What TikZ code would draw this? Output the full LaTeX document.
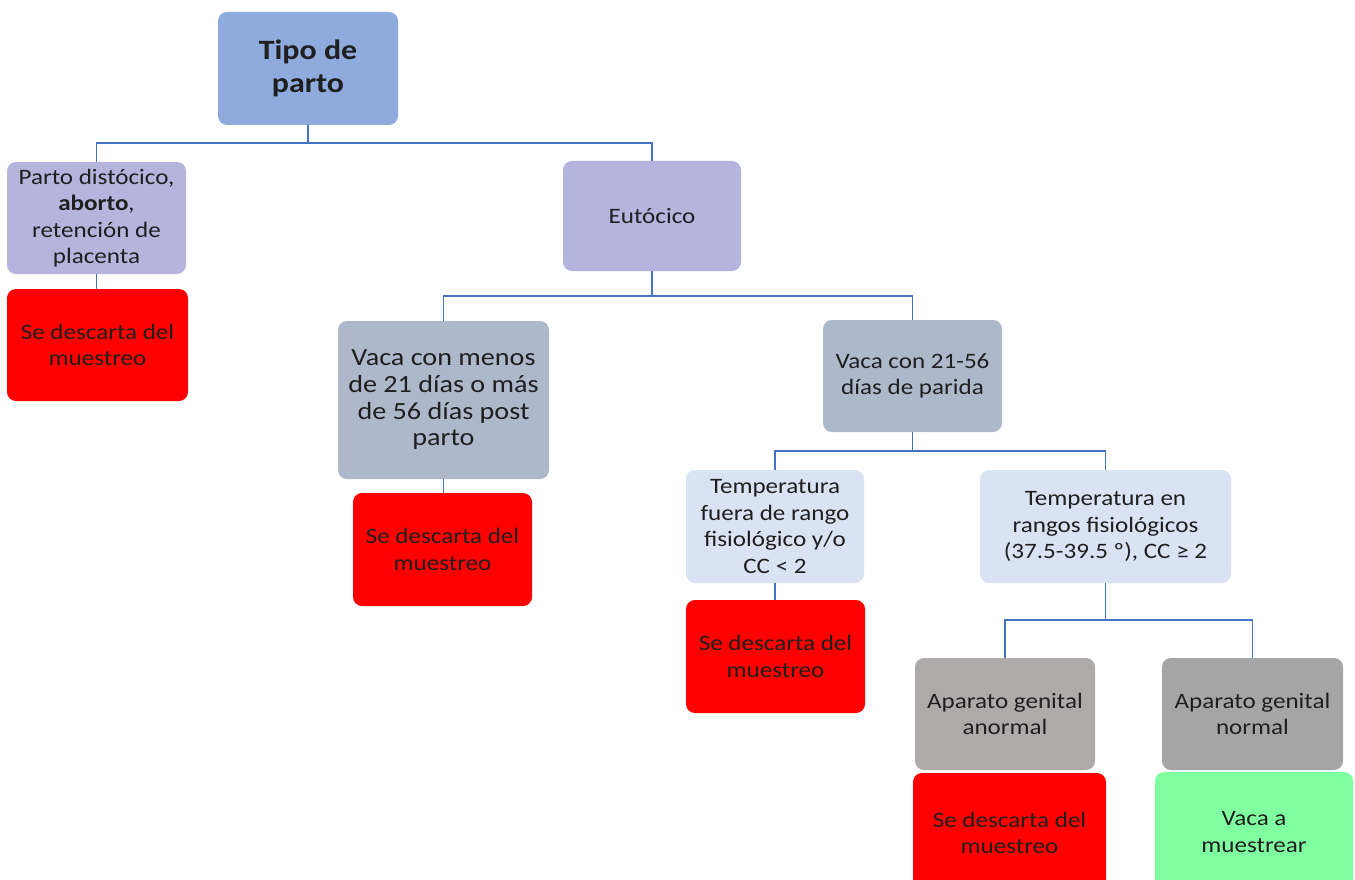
\documentclass[tikz,border=0pt]{standalone}
\usepackage{fontspec}
\setmainfont{Carlito}[FakeStretch=1.14]
\definecolor{rootblue}{HTML}{8FAADC}
\definecolor{lav}{HTML}{B4B4DC}
\definecolor{slate}{HTML}{ADB9CA}
\definecolor{pale}{HTML}{DAE3F3}
\definecolor{greyA}{HTML}{AEAAAA}
\definecolor{greyB}{HTML}{A5A5A5}
\definecolor{redbox}{HTML}{FF0000}
\definecolor{greenbox}{HTML}{80FFA0}
\definecolor{conn}{HTML}{4472C4}
\begin{document}
\begin{tikzpicture}[x=1pt,y=-1pt,
  box/.style={rounded corners=9pt, anchor=center, align=center, inner sep=0pt,
    font=\fontsize{22}{26.5}\selectfont, text=black!88},
  link/.style={draw=conn, line width=1.3pt}]
\fill[white] (0,0) rectangle (1355,880);
\useasboundingbox (0,0) rectangle (1355,880);

\node[box, fill=rootblue, minimum width=180pt, minimum height=113pt,
  font=\fontsize{28}{33}\selectfont\bfseries] (root) at (308,68.5) {Tipo de\\parto};

\node[box, fill=lav, minimum width=179pt, minimum height=112pt] (A) at (96.5,218)
  {Parto distócico,\\\textbf{aborto},\\retención de\\placenta};
\node[box, fill=redbox, minimum width=181pt, minimum height=112pt] (Ar) at (97.5,345)
  {Se descarta del\\muestreo};

\node[box, fill=lav, minimum width=178pt, minimum height=110pt] (B) at (652,216) {Eutócico};

\node[box, fill=slate, minimum width=211pt, minimum height=158pt,
  font=\fontsize{24.7}{26.7}\selectfont] (C) at (443.5,400)
  {Vaca con menos\\de 21 días o más\\de 56 días post\\parto};
\node[box, fill=redbox, minimum width=179pt, minimum height=113pt] (Cr) at (442.5,549.5)
  {Se descarta del\\muestreo};

\node[box, fill=slate, minimum width=179pt, minimum height=112pt] (D) at (912.5,376)
  {Vaca con 21-56\\días de parida};

\node[box, fill=pale, minimum width=178pt, minimum height=113pt] (E) at (775,526.5)
  {Temperatura\\fuera de rango\\fisiológico y/o\\CC < 2};
\node[box, fill=redbox, minimum width=179pt, minimum height=113pt] (Er) at (775.5,656.5)
  {Se descarta del\\muestreo};

\node[box, fill=pale, minimum width=251pt, minimum height=113pt] (F) at (1105.5,526.5)
  {Temperatura en\\rangos fisiológicos\\(37.5-39.5 º), CC ≥ 2};

\node[box, fill=greyA, minimum width=180pt, minimum height=112pt] (G) at (1005,714)
  {Aparato genital\\anormal};
\node[box, fill=redbox, minimum width=193pt, minimum height=120pt] (Gr) at (1009.5,833)
  {Se descarta del\\muestreo};

\node[box, fill=greyB, minimum width=181pt, minimum height=112pt] (H) at (1252.5,714)
  {Aparato genital\\normal};
\node[box, fill=greenbox, minimum width=198pt, minimum height=120pt] (Hr) at (1254,832)
  {Vaca a\\muestrear};

\coordinate (j1) at (308,143);
\coordinate (j2) at (652,296);
\coordinate (j3) at (912.5,451);
\coordinate (j4) at (1105.5,620);

\draw[link] (root.south) -- (j1) -| (A.north);
\draw[link] (j1) -| (B.north);
\draw[link] (A.south) -- (Ar.north -| A.south);
\draw[link] (B.south) -- (j2) -| (C.north);
\draw[link] (j2) -| (D.north);
\draw[link] (C.south) -- (Cr.north -| C.south);
\draw[link] (D.south) -- (j3) -| (E.north);
\draw[link] (j3) -| (F.north);
\draw[link] (E.south) -- (Er.north -| E.south);
\draw[link] (F.south) -- (j4) -| (G.north);
\draw[link] (j4) -| (H.north);
\end{tikzpicture}
\end{document}
